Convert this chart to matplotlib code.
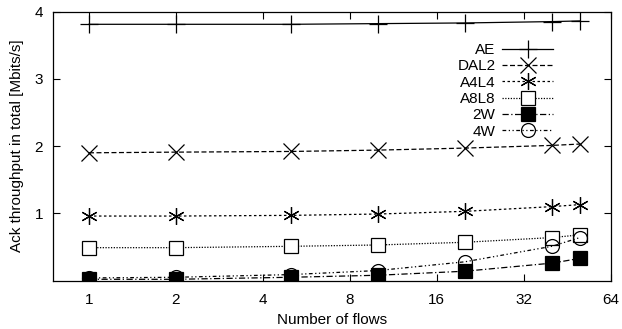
import matplotlib
matplotlib.use("Agg")
import matplotlib.pyplot as plt

plt.rcParams['font.family'] = ['Liberation Sans', 'DejaVu Sans']

flows = [1, 2, 5, 10, 20, 40, 50]
ae = [3.81, 3.81, 3.81, 3.82, 3.83, 3.85, 3.86]
dal2 = [1.90, 1.91, 1.92, 1.94, 1.97, 2.01, 2.03]
a4l4 = [0.96, 0.96, 0.97, 0.99, 1.03, 1.10, 1.13]
a8l8 = [0.49, 0.49, 0.51, 0.53, 0.57, 0.64, 0.68]
w2 = [0.02, 0.02, 0.05, 0.08, 0.14, 0.26, 0.33]
w4 = [0.04, 0.05, 0.09, 0.15, 0.28, 0.51, 0.64]

xticks = [1, 2, 4, 8, 16, 32, 64]
yticks = [1, 2, 3, 4]

fig = plt.figure(figsize=(6.22, 3.29), dpi=100)
ax = fig.add_axes([0.085, 0.147, 0.897, 0.818])

lw = 0.9
mew = 0.9
ax.plot(flows, ae, color='black', lw=lw, ls='-', marker='+', ms=13, mew=mew, label='AE')
ax.plot(flows, dal2, color='black', lw=lw, ls=(0, (4, 2)), marker='x', ms=11, mew=mew, label='DAL2')
ax.plot(flows, a4l4, color='black', lw=lw, ls=(0, (2, 2)), marker=(6, 2, 0), ms=12, mew=mew, label='A4L4')
ax.plot(flows, a8l8, color='black', lw=lw, ls=(0, (1, 1.2)), marker='s', ms=10, mew=mew,
        mfc='white', label='A8L8')
ax.plot(flows, w2, color='black', lw=lw, ls=(0, (5, 2, 1, 2)), marker='s', ms=10, mew=mew,
        mfc='black', label='2W')
ax.plot(flows, w4, color='black', lw=lw, ls=(0, (3, 2, 1, 2, 1, 2)), marker='o', ms=10, mew=mew,
        mfc='none', label='4W')

ax.set_xscale('log', base=2)
ax.set_xlim(0.75, 64)
ax.set_ylim(0, 4)
ax.set_xticks(xticks)
ax.set_xticklabels([str(t) for t in xticks])
ax.set_yticks(yticks)
ax.set_yticklabels([str(t) for t in yticks])
ax.minorticks_off()
ax.tick_params(direction='in', length=5, width=0.8, top=True, right=True, labelsize=11)
ax.tick_params(axis='x', pad=9)
ax.tick_params(axis='y', pad=7)
for s in ax.spines.values():
    s.set_linewidth(0.9)

ax.set_xlabel('Number of flows', fontsize=11, labelpad=4)
ax.set_ylabel('Ack throughput in total [Mbits/s]', fontsize=11, labelpad=8)

leg = ax.legend(loc='upper right', bbox_to_anchor=(0.907, 0.905), frameon=False, markerfirst=False,
                fontsize=11, handlelength=3.3, handletextpad=0.45, labelspacing=0.15,
                borderaxespad=0)

fig.savefig('out.png', dpi=100)
